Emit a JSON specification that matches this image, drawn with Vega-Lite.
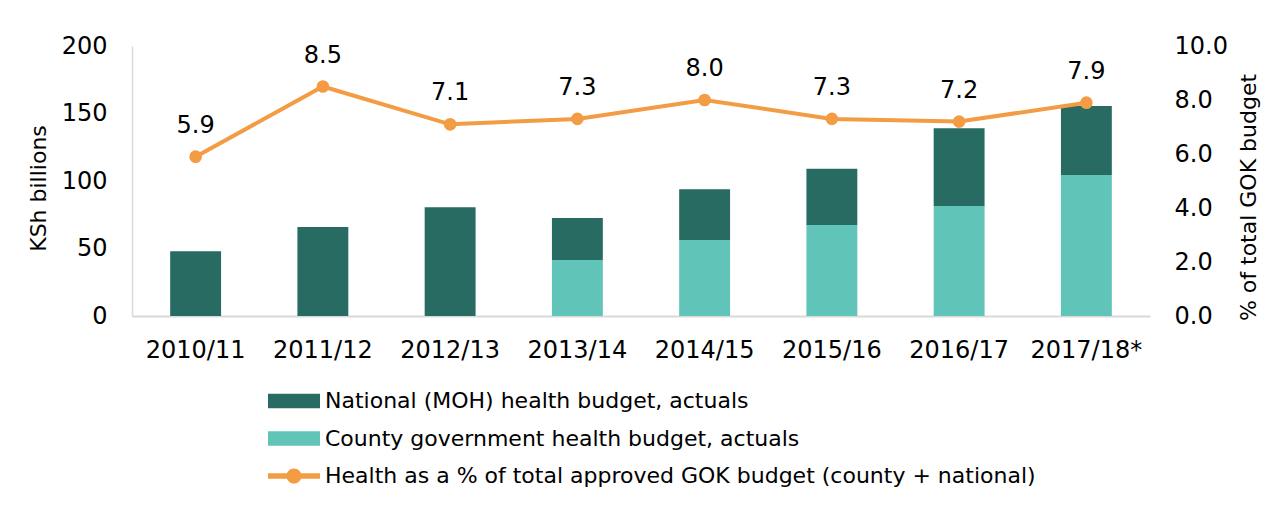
{
  "$schema": "https://vega.github.io/schema/vega-lite/v6.json",
  "autosize": {"type": "none"},
  "width": 1018,
  "height": 270,
  "padding": {"left": 132, "top": 46, "right": 136, "bottom": 191},
  "background": "white",
  "config": {
    "view": {"stroke": null},
    "font": "DejaVu Sans",
    "axis": {"labelColor": "#000000", "titleColor": "#000000", "grid": false, "ticks": false, "titleFontWeight": "normal", "labelFont": "DejaVu Sans", "titleFont": "DejaVu Sans"}
  },
  "datasets": {
    "bars": [
      {"year": "2010/11", "series": "National (MOH) health budget, actuals", "value": 48},
      {"year": "2011/12", "series": "National (MOH) health budget, actuals", "value": 66},
      {"year": "2012/13", "series": "National (MOH) health budget, actuals", "value": 80.5},
      {"year": "2013/14", "series": "County government health budget, actuals", "value": 41.5},
      {"year": "2013/14", "series": "National (MOH) health budget, actuals", "value": 31.1},
      {"year": "2014/15", "series": "County government health budget, actuals", "value": 56.3},
      {"year": "2014/15", "series": "National (MOH) health budget, actuals", "value": 37.5},
      {"year": "2015/16", "series": "County government health budget, actuals", "value": 67.4},
      {"year": "2015/16", "series": "National (MOH) health budget, actuals", "value": 41.7},
      {"year": "2016/17", "series": "County government health budget, actuals", "value": 81.5},
      {"year": "2016/17", "series": "National (MOH) health budget, actuals", "value": 57.5},
      {"year": "2017/18*", "series": "County government health budget, actuals", "value": 104.4},
      {"year": "2017/18*", "series": "National (MOH) health budget, actuals", "value": 51.2}
    ],
    "pct": [
      {"year": "2010/11", "pct": 5.9},
      {"year": "2011/12", "pct": 8.5},
      {"year": "2012/13", "pct": 7.1},
      {"year": "2013/14", "pct": 7.3},
      {"year": "2014/15", "pct": 8.0},
      {"year": "2015/16", "pct": 7.3},
      {"year": "2016/17", "pct": 7.2},
      {"year": "2017/18*", "pct": 7.9}
    ]
  },
  "encoding": {
    "x": {
      "field": "year", "type": "nominal",
      "scale": {"domain": ["2010/11", "2011/12", "2012/13", "2013/14", "2014/15", "2015/16", "2016/17", "2017/18*"], "paddingInner": 0.6, "paddingOuter": 0.3},
      "axis": {"title": null, "labelAngle": 0, "labelFontSize": 24, "labelPadding": 22, "domainColor": "#d9d9d9", "domainWidth": 2}
    }
  },
  "layer": [
    {
      "data": {"name": "bars"},
      "mark": {"type": "bar"},
      "encoding": {
        "y": {
          "field": "value", "type": "quantitative", "stack": "zero",
          "scale": {"domain": [0, 200]},
          "axis": {"values": [0, 50, 100, 150, 200], "title": "KSh billions", "labelFontSize": 24, "labelPadding": 25, "domainColor": "#d9d9d9", "domainWidth": 1.5, "titleFontSize": 22, "titleAngle": -90, "titleX": -94, "titleY": 142, "titleAlign": "center", "titleBaseline": "middle"}
        },
        "color": {
          "field": "series", "type": "nominal",
          "scale": {
            "domain": ["National (MOH) health budget, actuals", "County government health budget, actuals", "Health as a % of total approved GOK budget (county + national)"],
            "range": ["#286b63", "#61c4b9", "#f39c44"]
          },
          "legend": {
            "orient": "none", "legendX": 136, "legendY": 329, "direction": "vertical", "title": null,
            "padding": 0, "rowPadding": 0.5,
            "symbolType": "M-1,-0.275H1V0.275H-1Z", "symbolSize": 2704, "symbolStrokeWidth": 0,
            "labelFont": "DejaVu Sans", "labelFontSize": 22, "labelColor": "#000000", "labelLimit": 0, "labelOffset": 5,
            "encode": {"symbols": {"update": {"shape": {"signal": "datum.index === 2 ? 'M-1,-0.11H1V0.11H-1Z M-0.29,0A0.29,0.29 0 1,1 0.29,0A0.29,0.29 0 1,1 -0.29,0Z' : 'M-1,-0.275H1V0.275H-1Z'"}}}}
          }
        },
        "order": {"field": "series", "sort": "ascending"}
      }
    },
    {
      "data": {"name": "pct"},
      "encoding": {
        "y": {
          "field": "pct", "type": "quantitative",
          "scale": {"domain": [0, 10]},
          "axis": {"orient": "right", "values": [0, 2, 4, 6, 8, 10], "format": ".1f", "title": "% of total GOK budget", "domain": false, "labelFontSize": 24, "labelPadding": 24, "titleFontSize": 22, "titleAngle": -90, "titleX": 98, "titleY": 151, "titleAlign": "center", "titleBaseline": "middle"}
        }
      },
      "layer": [
        {
          "mark": {"type": "line", "strokeWidth": 4, "point": {"filled": true, "size": 160}},
          "encoding": {"color": {"datum": "Health as a % of total approved GOK budget (county + national)"}}
        },
        {
          "mark": {"type": "text", "dy": -31, "fontSize": 24, "font": "DejaVu Sans", "color": "#000000"},
          "encoding": {"text": {"field": "pct", "type": "quantitative", "format": ".1f"}}
        }
      ]
    }
  ],
  "resolve": {"scale": {"y": "independent"}}
}
